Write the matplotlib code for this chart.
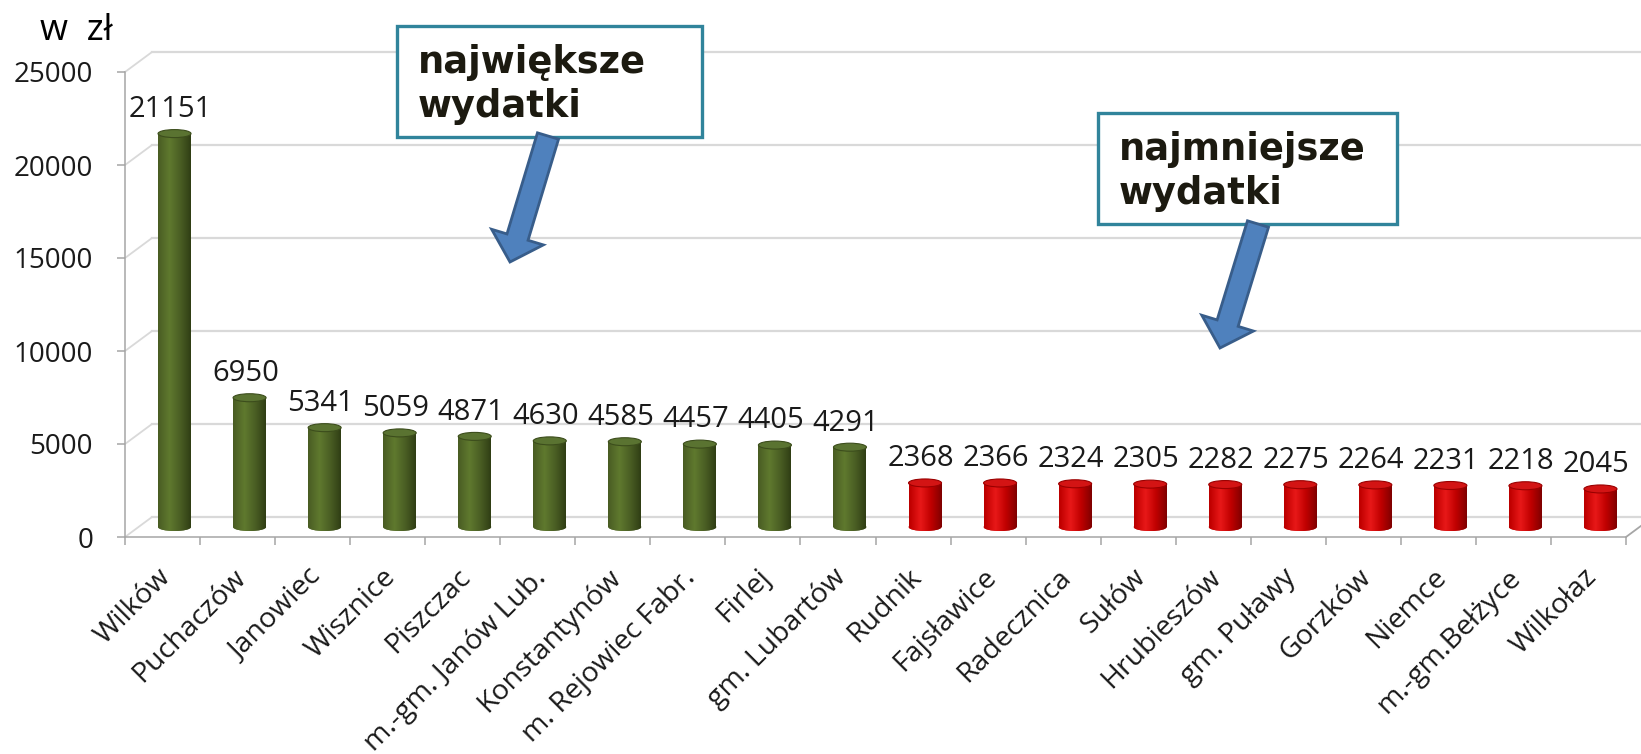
import numpy as np
import matplotlib
matplotlib.use("Agg")
import matplotlib.pyplot as plt
from matplotlib import transforms
from matplotlib.colors import LinearSegmentedColormap
from matplotlib.patches import Ellipse, Rectangle, FancyArrow, ConnectionPatch

# Gminy o największych i najmniejszych wydatkach (w zł)
gminy_duze = ["Wilków", "Puchaczów", "Janowiec", "Wisznice", "Piszczac",
              "m.-gm. Janów Lub.", "Konstantynów", "m. Rejowiec Fabr.",
              "Firlej", "gm. Lubartów"]
wydatki_duze = [21151, 6950, 5341, 5059, 4871, 4630, 4585, 4457, 4405, 4291]

gminy_male = ["Rudnik", "Fajsławice", "Radecznica", "Sułów", "Hrubieszów",
              "gm. Puławy", "Gorzków", "Niemce", "m.-gm.Bełżyce", "Wilkołaz"]
wydatki_male = [2368, 2366, 2324, 2305, 2282, 2275, 2264, 2231, 2218, 2045]

y_ticks = [0, 5000, 10000, 15000, 20000, 25000]

plt.rcParams["font.family"] = ["Open Sans", "DejaVu Sans"]
TXT = "#1A1A1A"

W, H = 1641, 754
fig = plt.figure(figsize=(W / 100, H / 100), dpi=100)
# pixel coordinates (origin top-left) for the decorative callouts
px = transforms.Affine2D().scale(1 / W, -1 / H).translate(0, 1) + fig.transFigure

X0, X1, Y0, Y1 = 125, 1626, 537, 72
ax = fig.add_axes([X0 / W, (H - Y0) / H, (X1 - X0) / W, (Y0 - Y1) / H])

names = gminy_duze + gminy_male
values = wydatki_duze + wydatki_male
n = len(names)
idx = np.arange(n)

ymax = y_ticks[-1]
px_per_unit = (Y0 - Y1) / ymax
ell_h = 8 / px_per_unit          # ellipse height in data units
bar_w = 33 / ((X1 - X0) / n)     # bar width in category units

# depth offsets: back wall and the mid-depth plane where the cylinders stand
back = transforms.offset_copy(ax.transData, fig=fig, x=27 * 0.72, y=20 * 0.72, units="points")
mid = transforms.offset_copy(ax.transData, fig=fig, x=12 * 0.72, y=10 * 0.72, units="points")

GRID = "#D9D9D9"
AXC = "#A6A6A6"

# back wall grid lines and the side-wall diagonals
for v in y_ticks:
    ax.plot([-0.5, n - 0.5], [v, v], color=GRID, lw=1.6, transform=back,
            clip_on=False, zorder=0.5)
    ax.add_artist(ConnectionPatch((-0.5, v), (-0.5, v), coordsA=ax.transData,
                                  coordsB=back, color=GRID, lw=1.3, zorder=0.5))
# right edge of the floor
ax.add_artist(ConnectionPatch((n - 0.5, 0), (n - 0.5, 0), coordsA=ax.transData,
                              coordsB=back, color=AXC, lw=1.3, zorder=0.6))

green_cmap = LinearSegmentedColormap.from_list(
    "g", [(0, "#2F3D14"), (0.55, "#4B5F24"), (1, "#5F792E")])
red_cmap = LinearSegmentedColormap.from_list(
    "r", [(0, "#7E0000"), (0.55, "#C00000"), (1, "#E81818")])

t = np.linspace(0, 1, 64)
profile = np.clip(1 - np.abs(t - 0.35) / 0.65, 0, 1) ** 0.9
grad = profile[np.newaxis, :]


def cylinders(xs, vals, base, cmap, top_face, top_edge):
    bars = ax.bar(xs, vals, width=bar_w, color=base, transform=mid,
                  zorder=3, linewidth=0)
    for x, v, rect in zip(xs, vals, bars):
        x0, x1 = x - bar_w / 2, x + bar_w / 2
        bottom = Ellipse((x, 0), bar_w, ell_h, transform=mid, facecolor=base,
                         edgecolor="none", zorder=2.9)
        ax.add_patch(bottom)
        for clip, zo in ((rect, 3.1), (bottom, 3.0)):
            im = ax.imshow(grad, extent=(x0, x1, -ell_h / 2, v), aspect="auto",
                           cmap=cmap, vmin=0, vmax=1, transform=mid,
                           interpolation="bilinear", zorder=zo)
            im.set_clip_path(clip)
        ax.add_patch(Ellipse((x, v), bar_w, ell_h, transform=mid,
                             facecolor=top_face, edgecolor=top_edge, lw=0.8,
                             zorder=3.2))
        ax.annotate(f"{v}", xy=(x, v), xycoords=mid, xytext=(-3, 12),
                    textcoords="offset points", ha="center", va="baseline",
                    fontsize=21, color=TXT, zorder=5)


k = len(wydatki_duze)
cylinders(idx[:k], wydatki_duze, "#4F6228", green_cmap, "#5A7331", "#3C4D1C")
cylinders(idx[k:], wydatki_male, "#C00000", red_cmap, "#D31414", "#9A0000")

ax.set_xlim(-0.5, n - 0.5)
ax.set_ylim(0, ymax)

for s in ("top", "right"):
    ax.spines[s].set_visible(False)
for s in ("left", "bottom"):
    ax.spines[s].set_color(AXC)
    ax.spines[s].set_linewidth(1.1)
ax.set_facecolor("none")

ax.set_yticks(y_ticks)
ax.set_yticklabels([str(v) for v in y_ticks])
ax.tick_params(axis="y", length=6, width=1.1, color=AXC, pad=17,
               labelsize=20, labelcolor=TXT)

ax.set_xticks(idx)
ax.set_xticklabels(names)
ax.set_xticks(np.arange(-0.5, n), minor=True)
ax.tick_params(axis="x", which="major", length=0, pad=19, labelsize=20.5,
               labelcolor=TXT)
ax.tick_params(axis="x", which="minor", length=6, width=1.1, color=AXC)
shift = transforms.ScaledTranslation(-6 / 100, 0, fig.dpi_scale_trans)
for lab in ax.get_xticklabels():
    lab.set_rotation(45)
    lab.set_ha("right")
    lab.set_rotation_mode("anchor")
    lab.set_transform(lab.get_transform() + shift)

fig.text(76 / W, 1 - 31 / H, "w  zł", fontsize=26, color="black",
         ha="center", va="center")

# callout boxes with arrows
BOX = "#31849B"
ARROW_FC = "#4F81BD"
ARROW_EC = "#385D8A"
callouts = [
    ((397, 26, 305, 111), ("największe", "wydatki"), (548, 136, -38, 126)),
    ((1098, 113, 299, 111), ("najmniejsze", "wydatki"), (1258, 224, -38, 124)),
]
for (bx, by, bw, bh), lines, (ax0, ay0, adx, ady) in callouts:
    ax.add_patch(Rectangle((bx, by + bh), bw, -bh, transform=px, facecolor="white",
                           edgecolor=BOX, lw=2.4, clip_on=False, zorder=6))
    for j, line in enumerate(lines):
        ax.text(bx + 21, by + 47 + 44 * j, line, transform=px, fontsize=26.5,
                fontweight="bold", family="DejaVu Sans", color="#1C1A10",
                ha="left", va="baseline", zorder=7)
    ax.add_patch(FancyArrow(ax0, ay0, adx, ady, width=22, head_width=54,
                            head_length=26, length_includes_head=True,
                            transform=px, facecolor=ARROW_FC, edgecolor=ARROW_EC,
                            lw=2.0, clip_on=False, zorder=8))

fig.savefig("out.png", dpi=100, facecolor="white")
